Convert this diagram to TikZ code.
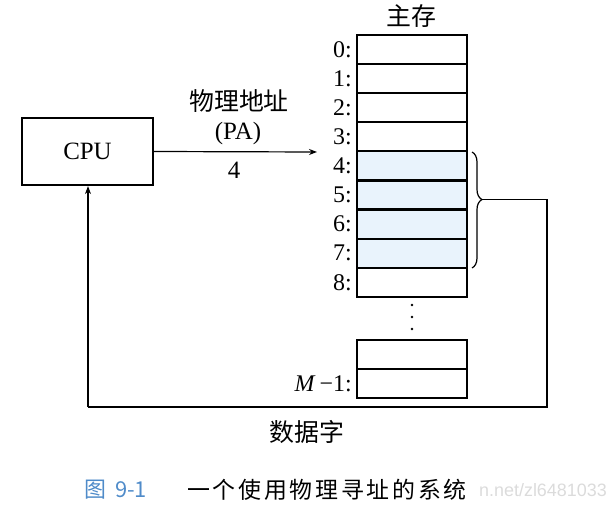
\documentclass[tikz,border=0pt]{standalone}
\usepackage{fontspec}
\setmainfont{Liberation Serif}
\newfontfamily\cjk{Noto Sans CJK SC}
\newfontfamily\cjkcap{Noto Sans CJK SC}[LetterSpace=12]
\newfontfamily\wmfont{Liberation Sans}
\usetikzlibrary{decorations.pathreplacing,arrows.meta}
\definecolor{cellblue}{HTML}{E9F3FC}
\definecolor{capblue}{HTML}{4F8BC9}
\tikzset{
  cell/.style={draw, line width=2.2bp, minimum width=110bp, minimum height=29.1bp, inner sep=0pt, outer sep=0pt},
  hcell/.style={cell, fill=cellblue},
  addr/.style={anchor=east, font=\fontsize{24}{24}\selectfont, inner sep=0pt},
  lbl/.style={font=\fontsize{25}{25}\selectfont, inner sep=0pt},
  zh/.style={font=\cjk\fontsize{25}{25}\selectfont, inner sep=0pt},
  conn/.style={line width=1.2bp},
  arr/.style={conn, -{Stealth[length=8bp,width=6bp]}}
}
\begin{document}
\begin{tikzpicture}[x=1bp,y=-1bp]
\useasboundingbox (0,0) rectangle (613,507);
% memory cells
\foreach \i in {0,1,2,3,8} {
  \node[cell] (c\i) at (412,{35+29.1*\i+14.55}) {};
}
\foreach \i in {4,5,6,7} {
  \node[hcell] (c\i) at (412,{35+29.1*\i+14.55}) {};
}
\foreach \i in {0,...,8} {
  \node[addr] (l\i) at (352,{35+29.1*\i+14.55}) {\i:};
}
\node[cell] (cm2) at (412,354.5) {};
\node[cell] (cm1) at (412,383.5) {};
\node[addr] (lm1) at (352,384) {\textit{M}\,−1:};
% dots
\foreach \y/\n in {305/d1,317/d2,329/d3} {
  \fill (412,\y) circle (1.4bp) coordinate (\n);
}
\node[zh] (mem) at (411,16) {主存};
% CPU
\node[draw, line width=2.2bp, minimum width=131bp, minimum height=67bp, inner sep=0pt, font=\fontsize{25}{25}\selectfont] (cpu) at (87.5,151.5) {CPU};
% address arrow
\coordinate (pa) at (317,152);
\draw[arr] (cpu.east) -- (pa);
\node[zh] (pazh) at (239,101) {物理地址};
\node[lbl] (paen) at (238,134) {(PA)};
\node[lbl] (four) at (234,170) {4};
% brace
\coordinate (bt) at (472,152);
\coordinate (bb) at (472,268);
\draw[conn, decorate, decoration={brace, amplitude=10bp, aspect=0.41}] (bt) -- (bb);
\coordinate (tip) at (482,199.6);
\coordinate (r1) at (547,199.6);
\coordinate (r2) at (547,407);
\coordinate (r3) at (88,407);
\draw[conn] (tip) -- (r1) -- (r2) -- (r3);
\draw[arr] (r3) -- (cpu.south -| r3);
\node[zh] (data) at (307,432) {数据字};
% caption
\node[anchor=east, inner sep=0pt, text=black!14, font=\wmfont\fontsize{18}{18}\selectfont] (wm) at (607,490) {n.net/zl6481033};
\node[anchor=west, inner sep=0pt, text=capblue, font=\cjk\fontsize{22}{22}\selectfont] (fig) at (84,490) {图\hspace{9bp}9-1};
\node[anchor=west, inner sep=0pt, font=\cjkcap\fontsize{23}{23}\selectfont] (cap) at (187,490) {一个使用物理寻址的系统};
\end{tikzpicture}
\end{document}
